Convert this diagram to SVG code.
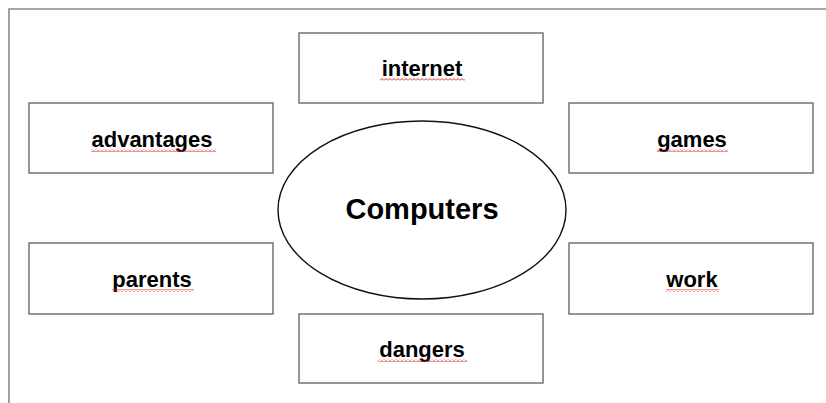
<svg xmlns="http://www.w3.org/2000/svg" width="826" height="403" viewBox="0 0 826 403">
<style>
.box{fill:#fff;stroke:#5f5f5f;stroke-width:1.3}
.lbl{font-family:"Liberation Sans",Arial,sans-serif;font-weight:bold;font-size:22px;fill:#000;text-anchor:middle}
.big{font-family:"Liberation Sans",Arial,sans-serif;font-weight:bold;font-size:29px;fill:#000;text-anchor:middle}
.sq{fill:url(#wave)}
.frame{stroke:#8a8a8a;stroke-width:1.6;fill:none}
</style>
<defs>
<pattern id="wave" width="4" height="3" patternUnits="userSpaceOnUse">
<path d="M0,2.5 L2,0.5 L4,2.5" fill="none" stroke="#e02828" stroke-width="1"/>
</pattern>
</defs>
<rect width="826" height="403" fill="#fff"/>
<path class="frame" d="M9,403 V9 H826"/>
<g id="connectors"></g>
<g id="computers">
<ellipse cx="422" cy="210" rx="144" ry="89" fill="#fff" stroke="#111" stroke-width="1.4"/>
<text class="big" x="422" y="219">Computers</text>
</g>
<g id="internet">
<rect class="box" x="299" y="33" width="244" height="70"/>
<text class="lbl" x="422" y="76">internet</text>
<rect class="sq" x="380" y="78" width="85" height="3"/>
</g>
<g id="advantages">
<rect class="box" x="29" y="103" width="244" height="70"/>
<text class="lbl" x="152" y="147">advantages</text>
<rect class="sq" x="91" y="149" width="125" height="3"/>
</g>
<g id="games">
<rect class="box" x="569" y="103" width="244" height="70"/>
<text class="lbl" x="692" y="147">games</text>
<rect class="sq" x="657" y="149" width="71" height="3"/>
</g>
<g id="parents">
<rect class="box" x="29" y="243" width="244" height="71"/>
<text class="lbl" x="152" y="287">parents</text>
<rect class="sq" x="112" y="289" width="82" height="3"/>
</g>
<g id="work">
<rect class="box" x="569" y="243" width="244" height="71"/>
<text class="lbl" x="692" y="287">work</text>
<rect class="sq" x="666" y="289" width="53" height="3"/>
</g>
<g id="dangers">
<rect class="box" x="299" y="314" width="244" height="69"/>
<text class="lbl" x="422" y="357">dangers</text>
<rect class="sq" x="378" y="359" width="89" height="3"/>
</g>
</svg>
